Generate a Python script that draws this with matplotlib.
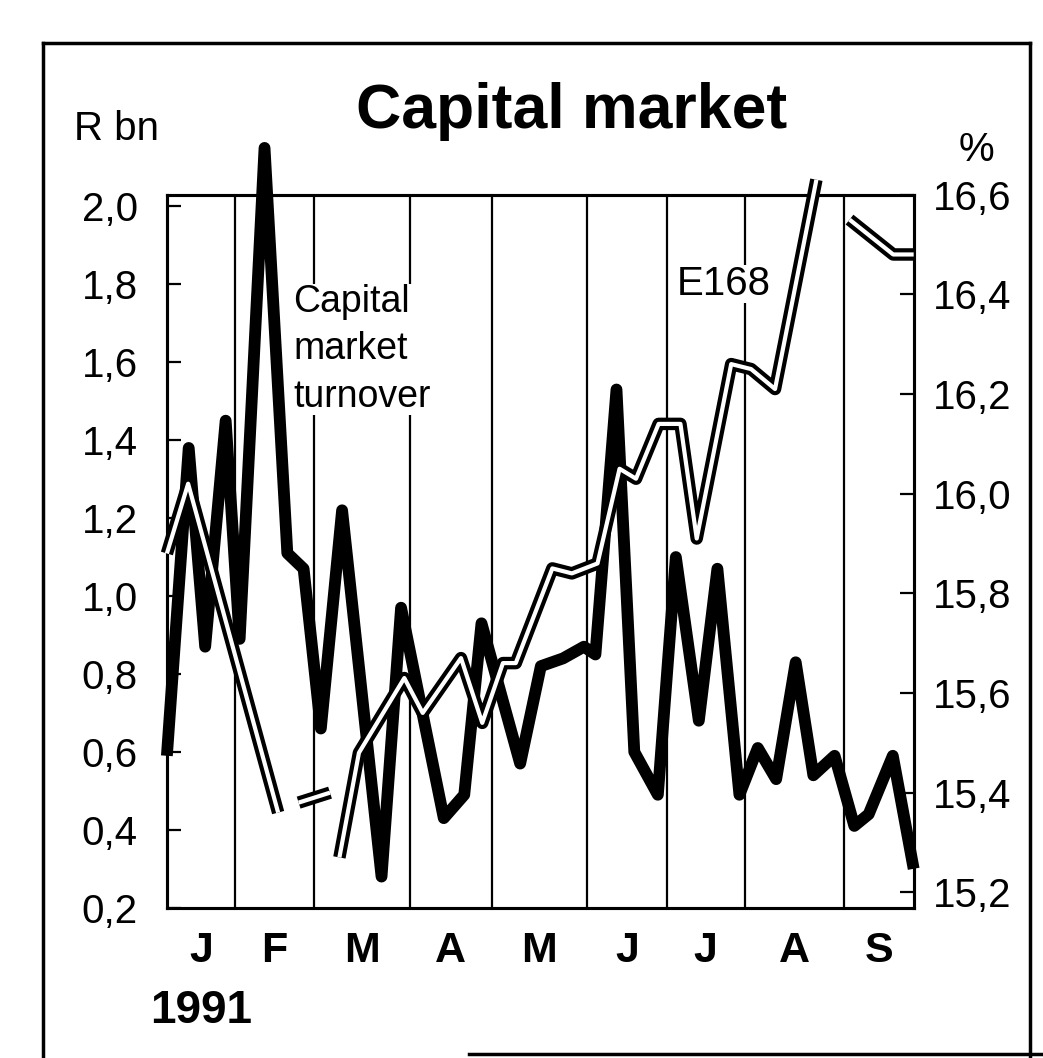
import numpy as np
import matplotlib
matplotlib.use("Agg")
import matplotlib.pyplot as plt
import matplotlib.transforms as mtransforms

plt.rcParams['font.family'] = ['Liberation Sans', 'DejaVu Sans']

nan = np.nan

# weekly readings, x in weeks from 1 January 1991
weeks_turnover = [0.0, 1.14, 2.0, 3.07, 3.8, 5.1, 6.29, 7.14, 8.04, 9.15,
                  11.21, 12.23, 14.46, 15.53, 16.43, 18.45, 19.53, 20.69, 21.78, 22.38,
                  23.48, 24.41, 25.64, 26.58, 27.78, 28.75, 29.9, 30.86, 31.82, 32.84,
                  33.76, 34.87, 35.9, 36.65, 37.91, 39.0]
turnover = [0.59, 1.38, 0.87, 1.45, 0.89, 2.15, 1.11, 1.07, 0.66, 1.22,
            0.28, 0.97, 0.43, 0.49, 0.93, 0.57, 0.82, 0.84, 0.87, 0.85,
            1.53, 0.60, 0.49, 1.10, 0.68, 1.07, 0.49, 0.61, 0.53, 0.83,
            0.54, 0.59, 0.41, 0.44, 0.59, 0.30]

# E168 yield (%), gaps where no quote
weeks_e168 = [0.0, 1.11, 5.81, nan, 6.88, 8.52, nan, 9.01, 10.03, 12.4,
              13.36, 15.36, 16.47, 17.55, 18.22, 20.13, 21.15, 22.49, 23.64, 24.5,
              25.68, 26.82, 27.67, 29.47, 30.51, 31.76, 33.92, nan, 35.65, 37.93, 39.0]
e168 = [15.88, 16.02, 15.36, nan, 15.38, 15.40, nan, 15.27, 15.48, 15.63,
        15.56, 15.67, 15.54, 15.66, 15.66, 15.85, 15.84, 15.86, 16.05, 16.03,
        16.14, 16.14, 15.91, 16.26, 16.25, 16.21, 16.63, nan, 16.55, 16.48, 16.48]

month_edges = [0, 3.55, 7.68, 12.69, 16.97, 21.93, 26.11, 30.18, 35.35, 39.0]
month_labels = ['J', 'F', 'M', 'A', 'M', 'J', 'J', 'A', 'S']

left_ticks = [0.2, 0.4, 0.6, 0.8, 1.0, 1.2, 1.4, 1.6, 1.8, 2.0]
right_ticks = [15.2, 15.4, 15.6, 15.8, 16.0, 16.2, 16.4, 16.6]


def comma(v):
    return f"{v:.1f}".replace('.', ',')


fig = plt.figure(figsize=(10.43, 10.58), dpi=100)
ax = fig.add_axes([0.160, 0.142, 0.716, 0.674])
ax2 = ax.twinx()

ax.set_xlim(0, 39)
ax.set_ylim(0.2, 2.03)
ax2.set_ylim(15.169, 16.59)

# month separators
for x in month_edges[1:-1]:
    ax.axvline(x, color='black', lw=1.6, zorder=1)

ax.plot(weeks_turnover, turnover, color='black', lw=8.5,
        solid_capstyle='butt', clip_on=False, zorder=3)

# E168 drawn as an open double line
ax2.plot(weeks_e168, e168, color='black', lw=9, solid_capstyle='butt',
         clip_on=False, zorder=5)
ax2.plot(weeks_e168, e168, color='white', lw=3, solid_capstyle='butt',
         clip_on=False, zorder=6)

for a in (ax, ax2):
    for s in a.spines.values():
        s.set_linewidth(2.2)

ax.set_yticks(left_ticks)
ax.set_yticklabels([comma(v) for v in left_ticks])
ax.tick_params(axis='y', direction='in', length=10, width=1.6, pad=21,
               labelsize=29)

ax2.set_yticks(right_ticks)
ax2.set_yticklabels([comma(v) for v in right_ticks])
ax2.tick_params(axis='y', direction='in', length=10, width=1.6, pad=14,
                labelsize=29)

mids = [(a + b) / 2 for a, b in zip(month_edges[:-1], month_edges[1:])]
ax.set_xticks(mids)
ax.set_xticklabels(month_labels, fontsize=31, fontweight='bold')
ax.tick_params(axis='x', length=0, pad=17)

ax.text(6.6, 1.80, 'Capital\nmarket\nturnover', fontsize=27, ha='left',
        va='top', linespacing=1.4, zorder=2,
        bbox=dict(facecolor='white', edgecolor='none', pad=0))
ax.text(29.1, 1.80, 'E168', fontsize=29, ha='center', va='center', zorder=2,
        bbox=dict(facecolor='white', edgecolor='none', pad=0))

fig.text(0.548, 0.895, 'Capital market', fontsize=45, fontweight='bold',
         ha='center', va='center')
fig.text(0.112, 0.878, 'R bn', fontsize=29, ha='center', va='center')
fig.text(0.936, 0.858, '%', fontsize=29, ha='center', va='center')

trans = mtransforms.blended_transform_factory(ax.transData, fig.transFigure)
fig.text(mids[0], 0.044, '1991', transform=trans, fontsize=33,
         fontweight='bold', ha='center', va='center')

# clipping frame
frame = dict(color='black', lw=2.5, transform=fig.transFigure, clip_on=False)
fig.add_artist(plt.Line2D([0.041, 0.041], [0.0, 0.959], **frame))
fig.add_artist(plt.Line2D([0.041, 0.988], [0.959, 0.959], **frame))
fig.add_artist(plt.Line2D([0.988, 0.988], [0.959, 0.0], **frame))
fig.add_artist(plt.Line2D([0.45, 1.0], [0.004, 0.004], **frame))

fig.savefig('out.png', dpi=100, facecolor='white')
